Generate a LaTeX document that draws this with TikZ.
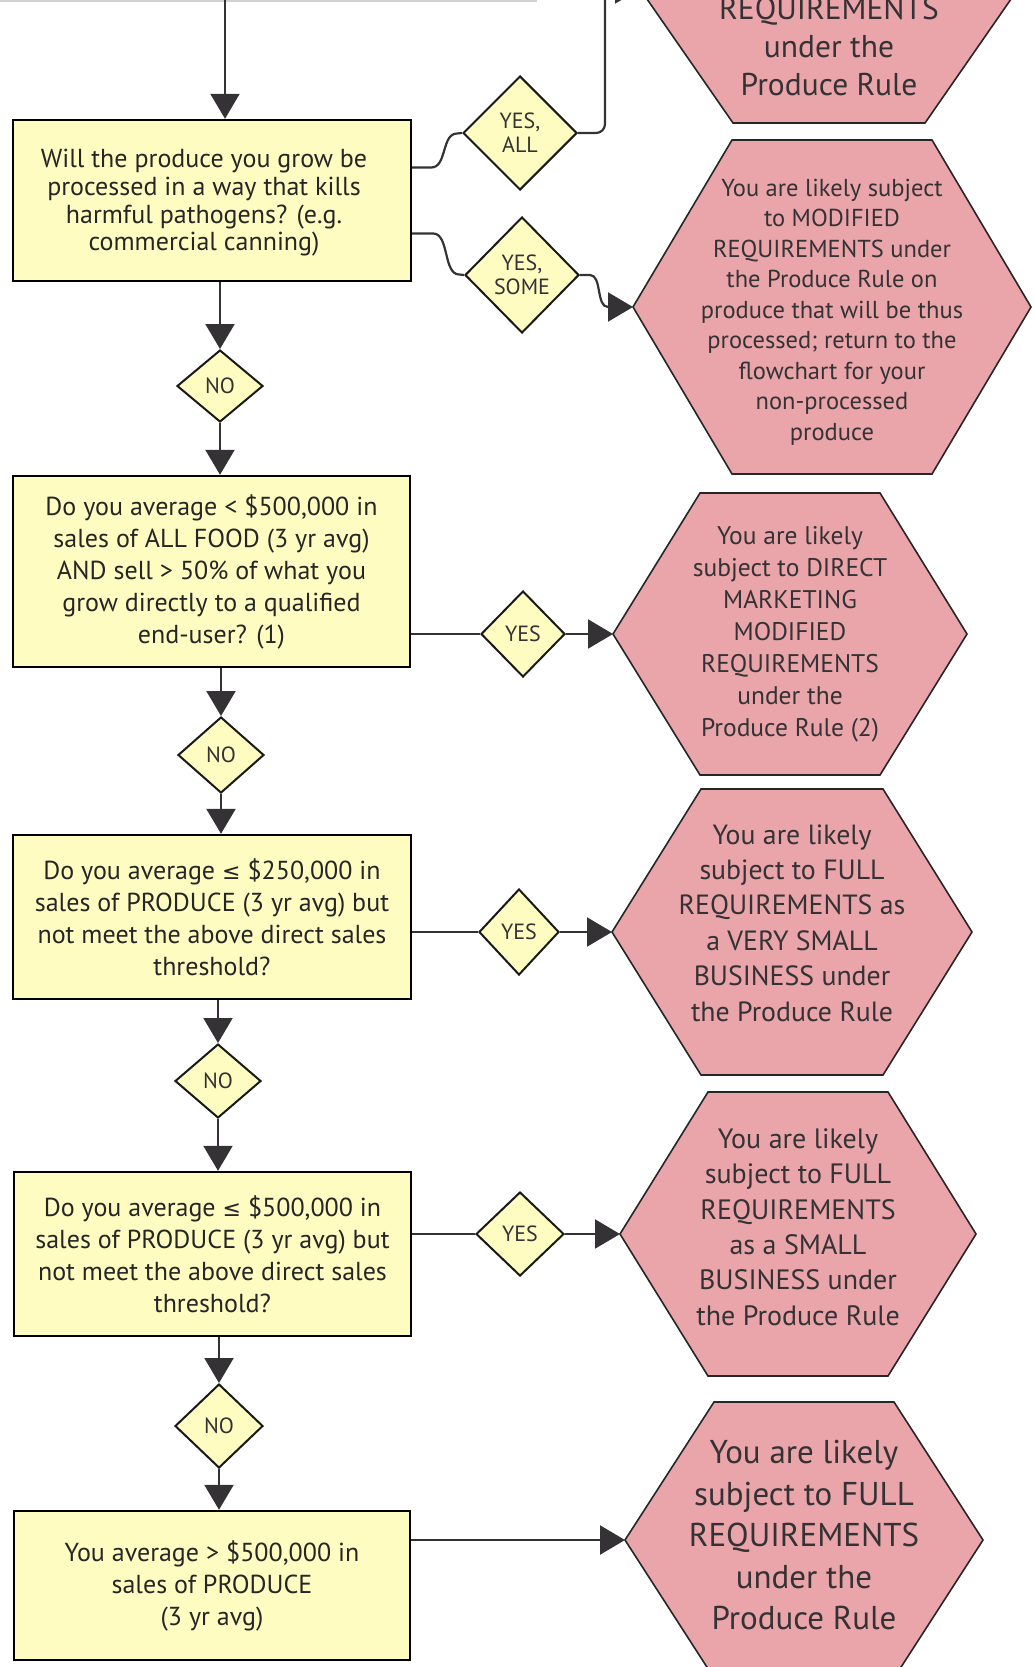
\documentclass[tikz,border=0pt]{standalone}
\usepackage{fontspec}
\setmainfont{PT Sans}
\newfontfamily\symfont{DejaVu Sans}
\usetikzlibrary{arrows.meta,shapes.geometric}

\definecolor{boxyellow}{RGB}{254,252,192}
\definecolor{hexpink}{RGB}{234,165,170}
\definecolor{inkgray}{RGB}{52,50,52}

% hexagon outline: name, x, y, half width, half height, half width of flat edge
\newcommand{\hexnode}[6]{%
  \draw[hexshape] ({#2-#4},#3) -- ({#2-#6},{#3-#5}) -- ({#2+#6},{#3-#5})
    -- ({#2+#4},#3) -- ({#2+#6},{#3+#5}) -- ({#2-#6},{#3+#5}) -- cycle;
  \coordinate (#1-w) at ({#2-#4},#3);}
\newcommand{\lessq}{{\symfont\fontsize{22}{22}\selectfont ≤}}

\begin{document}
\begin{tikzpicture}[x=1pt,y=-1pt,
  question/.style={draw=black,line width=2.4pt,fill=boxyellow,align=center,inner sep=0pt,text=black!85,
    font=\fontsize{26}{32}\selectfont},
  choice/.style={diamond,draw=black!90,line width=2pt,fill=boxyellow,inner sep=0pt,align=center,
    font=\fontsize{22}{24}\selectfont,text=inkgray},
  outcome/.style={align=center,inner sep=0pt,text=inkgray},
  hexshape/.style={draw=black!85,line width=1.6pt,fill=hexpink},
  link/.style={draw=inkgray,line width=2.2pt},
  arr/.style={link,-{Triangle[length=25pt,width=29pt]}}]
\useasboundingbox (0,0) rectangle (1034,1667);
\clip (0,0) rectangle (1034,1667);

\draw[gray!35,line width=1.5pt] (0,1) -- (537,1);
\coordinate (entry) at (225,-10);

% outcomes
\hexnode{h1}{829}{-11}{189}{134}{96}
\hexnode{h2}{832}{307}{199}{167}{100}
\hexnode{h3}{790}{634}{177}{141}{90}
\hexnode{h4}{792}{932}{180}{143}{91}
\hexnode{h5}{798}{1234}{178}{142}{90}
\hexnode{h6}{804}{1540}{179}{138}{90}

\node[outcome,font=\fontsize{31.5}{38}\selectfont] (t1) at (829,46) {REQUIREMENTS\\under the\\Produce Rule};
\node[outcome,font=\fontsize{24.5}{30.5}\selectfont] (t2) at (832,312) {You are likely subject\\to MODIFIED\\REQUIREMENTS under\\the Produce Rule on\\produce that will be thus\\processed; return to the\\flowchart for your\\non-processed\\produce};
\node[outcome,font=\fontsize{25.5}{32}\selectfont] (t3) at (790,634) {You are likely\\subject to DIRECT\\MARKETING\\MODIFIED\\REQUIREMENTS\\under the\\Produce Rule (2)};
\node[outcome,font=\fontsize{27.8}{35.4}\selectfont] (t4) at (792,923) {You are likely\\subject to FULL\\REQUIREMENTS as\\a VERY SMALL\\BUSINESS under\\the Produce Rule};
\node[outcome,font=\fontsize{28}{35.4}\selectfont] (t5) at (798,1227) {You are likely\\subject to FULL\\REQUIREMENTS\\as a SMALL\\BUSINESS under\\the Produce Rule};
\node[outcome,font=\fontsize{33}{41.5}\selectfont] (t6) at (804,1535) {You are likely\\subject to FULL\\REQUIREMENTS\\under the\\Produce Rule};

% questions
\node[question,minimum width=398pt,minimum height=161pt] (q1) at (212,200.5) {};
\node[outcome,text=black!85,font=\fontsize{26}{27.6}\selectfont] (q1text) at (204,203)
  {Will the produce you grow be\\processed in a way that kills\\harmful pathogens? (e.g.\\commercial canning)};
\node[question,minimum width=397pt,minimum height=191pt] (q2) at (211.5,571.5)
  {Do you average < \$500,000 in\\sales of ALL FOOD (3 yr avg)\\AND sell > 50\% of what you\\grow directly to a qualified\\end-user? (1)};
\node[question,minimum width=398pt,minimum height=164pt] (q3) at (212,917)
  {Do you average \lessq{} \$250,000 in\\sales of PRODUCE (3 yr avg) but\\not meet the above direct sales\\threshold?};
\node[question,minimum width=397pt,minimum height=164pt] (q4) at (212.5,1254)
  {Do you average \lessq{} \$500,000 in\\sales of PRODUCE (3 yr avg) but\\not meet the above direct sales\\threshold?};
\node[question,minimum width=396pt,minimum height=149pt] (q5) at (212,1585.5)
  {You average > \$500,000 in\\sales of PRODUCE\\(3 yr avg)};

% answers
\node[choice,minimum width=114pt,minimum height=114pt] (yall) at (520,133) {YES,\\ALL};
\node[choice,minimum width=114pt,minimum height=116pt] (ysome) at (522,275) {YES,\\SOME};
\node[choice,minimum width=86pt,minimum height=72pt] (no1) at (220,386) {NO};
\node[choice,minimum width=84pt,minimum height=86pt] (yes2) at (523,634) {YES};
\node[choice,minimum width=86pt,minimum height=76pt] (no2) at (221,755) {NO};
\node[choice,minimum width=80pt,minimum height=86pt] (yes3) at (519,932) {YES};
\node[choice,minimum width=86pt,minimum height=74pt] (no3) at (218,1081) {NO};
\node[choice,minimum width=88pt,minimum height=84pt] (yes4) at (520,1234) {YES};
\node[choice,minimum width=88pt,minimum height=84pt] (no4) at (219,1426) {NO};

% connectors
\draw[arr] (entry) -- (entry |- q1.north);
\draw[link] ([yshift=33pt]q1.east) -- ++(19,0) .. controls +(16,0) and +(-16,0) .. ++(26,-34) -- (yall.west);
\draw[link] ([yshift=-33pt]q1.east) -- ++(21,0) .. controls +(16,0) and +(-16,0) .. ++(26,41) -- (ysome.west);
\draw[arr,rounded corners=9pt] (yall.east) -- (605,133) -- (605,-11) -- (h1-w);
\draw[arr] (ysome.east) -- ++(10,0) .. controls +(12,0) and +(-12,0) .. ++(18,32) -- (h2-w);

\draw[arr] (no1 |- q1.south) -- (no1.north);
\draw[arr] (no1.south) -- (no1 |- q2.north);
\draw[link] (q2.east |- yes2) -- (yes2.west);
\draw[arr] (yes2.east) -- (h3-w);

\draw[arr] (no2 |- q2.south) -- (no2.north);
\draw[arr] (no2.south) -- (no2 |- q3.north);
\draw[link] (q3.east |- yes3) -- (yes3.west);
\draw[arr] (yes3.east) -- (h4-w);

\draw[arr] (no3 |- q3.south) -- (no3.north);
\draw[arr] (no3.south) -- (no3 |- q4.north);
\draw[link] (q4.east |- yes4) -- (yes4.west);
\draw[arr] (yes4.east) -- (h5-w);

\draw[arr] (no4 |- q4.south) -- (no4.north);
\draw[arr] (no4.south) -- (no4 |- q5.north);
\draw[arr] (q5.east |- h6-w) -- (h6-w);
\end{tikzpicture}
\end{document}
